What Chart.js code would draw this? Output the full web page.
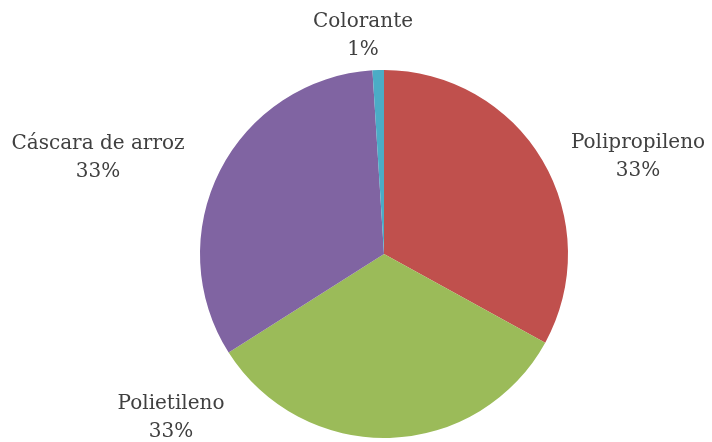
<!DOCTYPE html>
<html lang="es">
<head>
    <meta charset="UTF-8">
    <title>Composición</title>
    <script src="https://cdn.jsdelivr.net/npm/chart.js"></script>
    <style>
        html, body { margin: 0; padding: 0; background: #fff; }
        #wrap { width: 712px; height: 442px; position: relative; }
    </style>
</head>
<body>
    <div id="wrap"><canvas id="myChart"></canvas></div>

    <script>
        const labels = ['Polipropileno', 'Polietileno', 'Cáscara de arroz', 'Colorante'];
        const values = [33, 33, 33, 1];
        const colors = ['#C0504D', '#9BBB59', '#8064A2', '#4BACC6'];

        // donde va cada etiqueta (centro del texto)
        const labelPos = [[638, 157], [171, 418], [98, 158], [363, 36]];

        const outsideLabels = {
            id: 'outsideLabels',
            afterDraw(chart) {
                const ctx = chart.ctx;
                ctx.save();
                ctx.font = '20px "DejaVu Serif"';
                ctx.fillStyle = '#404040';
                ctx.textAlign = 'center';
                ctx.textBaseline = 'middle';
                const total = values.reduce((a, b) => a + b, 0);
                labels.forEach((l, i) => {
                    const [x, y] = labelPos[i];
                    ctx.fillText(l, x, y - 14);
                    ctx.fillText(Math.round(values[i] / total * 100) + '%', x, y + 14);
                });
                ctx.restore();
            }
        };

        new Chart(document.getElementById('myChart'), {
            type: 'pie',
            data: {
                labels: labels,
                datasets: [{
                    data: values,
                    backgroundColor: colors,
                    borderWidth: 0
                }]
            },
            options: {
                responsive: true,
                maintainAspectRatio: false,
                animation: false,
                layout: { padding: { left: 200, right: 144, top: 70, bottom: 4 } },
                plugins: {
                    legend: { display: false },
                    tooltip: { enabled: false }
                }
            },
            plugins: [outsideLabels]
        });
    </script>
</body>
</html>
